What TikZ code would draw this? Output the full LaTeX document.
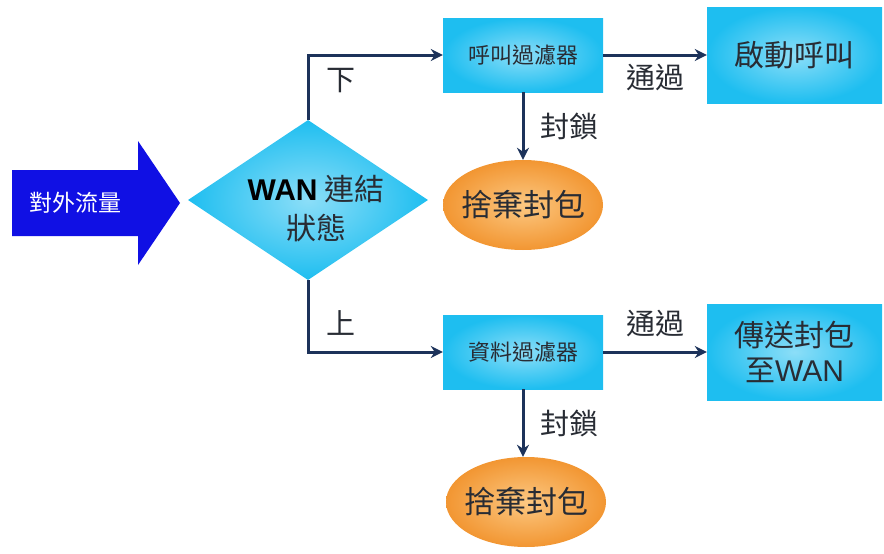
\documentclass[tikz,border=0pt]{standalone}
\usepackage{fontspec}
\setmainfont{Noto Sans CJK TC}
\newfontfamily\latin{Liberation Sans}
\usetikzlibrary{arrows.meta, shapes.geometric}
\definecolor{navy}{RGB}{28,50,90}
\definecolor{cyanbox}{RGB}{30,190,240}
\definecolor{cyanlite}{RGB}{140,222,248}
\definecolor{orangebox}{RGB}{242,150,50}
\definecolor{orangelite}{RGB}{252,200,130}
\definecolor{pushblue}{RGB}{16,16,228}
\definecolor{ink}{RGB}{40,44,52}

\begin{document}
\begin{tikzpicture}[x=1pt,y=-1pt,>={Stealth[length=12pt,width=12pt]},flow/.style={->, line width=3pt, draw=navy},filter/.style={rectangle, minimum width=160pt, minimum height=74pt, inner color=cyanlite, outer color=cyanbox, text=ink, font=\fontsize{22}{26}\selectfont},target/.style={rectangle, minimum width=175pt, minimum height=96pt, inner color=cyanlite, outer color=cyanbox, text=ink, align=center, font=\fontsize{30}{35}\selectfont},drop/.style={ellipse, minimum width=160pt, minimum height=90pt, inner xsep=-8pt, inner color=orangelite, outer color=orangebox, text=ink, font=\fontsize{31}{35}\selectfont},lbl/.style={text=ink, font=\fontsize{29}{33}\selectfont}]
\useasboundingbox (0,0) rectangle (884,554);
\fill[pushblue] (12,170) -- (138,170) -- (138,141) -- (180,203) -- (138,265) -- (138,236) -- (12,236) -- cycle;
\node[text=white, font=\fontsize{23}{26}\selectfont] (outflow) at (75,203) {對外流量};
\node[diamond, aspect=1.5, inner sep=0pt, minimum width=240pt, minimum height=160pt, inner color=cyanlite, outer color=cyanbox] (wan) at (308,200) {};
\node[text=ink, align=center, font=\fontsize{30}{39}\selectfont] (wantext) at (316,209) {{\latin\bfseries\color{black}WAN} 連結\\狀態};
\node[filter] (callf) at (523,55) {呼叫過濾器}; \node[target] (start) at (794.5,55) {啟動呼叫}; \node[drop] (dropa) at (523,205) {捨棄封包};
\node[filter] (dataf) at (523,352) {資料過濾器}; \node[target] (send) at (794.5,352) {傳送封包\\至{\latin WAN}}; \node[drop] (dropb) at (526,502) {捨棄封包};
\draw[flow] (wan.north) |- (callf.west) node[lbl, pos=0.3, right=14pt] (down) {下};
\draw[flow] (wan.south) |- (dataf.west) node[lbl, pos=0.3, right=14pt] (up) {上};
\draw[flow] (callf.east) -- (start.west) node[lbl, midway, below=4pt] (passa) {通過};
\draw[flow] (dataf.east) -- (send.west) node[lbl, midway, above=10pt] (passb) {通過};
\draw[flow] (callf.south) -- (dropa.north) node[lbl, midway, right=13pt] (blocka) {封鎖};
\draw[flow] (dataf.south) -- (dataf.south |- dropb.north) node[lbl, midway, right=13pt] (blockb) {封鎖};
\end{tikzpicture}
\end{document}
